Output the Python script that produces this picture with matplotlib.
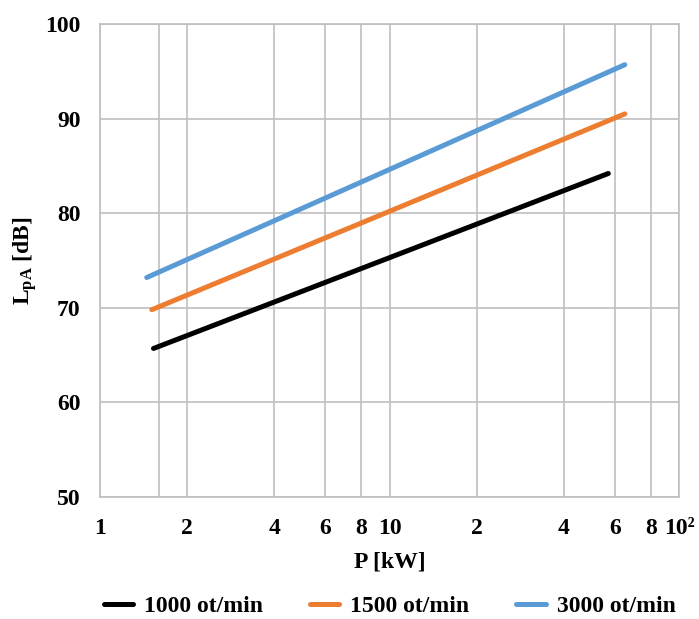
import matplotlib

matplotlib.use("Agg")

import matplotlib.pyplot as plt
from matplotlib.ticker import FixedLocator, NullFormatter

# Data (P in kW, LpA in dB)
p_1000 = [1.53, 57]
l_1000 = [65.7, 84.2]
p_1500 = [1.51, 65]
l_1500 = [69.8, 90.5]
p_3000 = [1.45, 65]
l_3000 = [73.2, 95.7]

x_ticks = [1, 2, 4, 6, 8, 10, 20, 40, 60, 80, 100]
x_labels = ["1", "2", "4", "6", "8", "10", "2", "4", "6", "8", "10\u00b2"]
x_extra_grid = [1.6]
y_ticks = [50, 60, 70, 80, 90, 100]

plt.rcParams["font.family"] = ["Liberation Serif", "DejaVu Serif"]
plt.rcParams["font.weight"] = "bold"
plt.rcParams["mathtext.fontset"] = "custom"
plt.rcParams["mathtext.rm"] = "Liberation Serif:bold"
plt.rcParams["mathtext.it"] = "Liberation Serif:bold"
plt.rcParams["mathtext.bf"] = "Liberation Serif:bold"

fig = plt.figure(figsize=(6.99, 6.19), dpi=100)
ax = fig.add_axes([0.1431, 0.1971, 0.8283, 0.7641])

grid_col = "#BFBFBF"
fs = 17

ax.plot(p_1000, l_1000, color="black", lw=3.6, solid_capstyle="round", label="1000 ot/min")
ax.plot(p_1500, l_1500, color="#ED7D31", lw=3.6, solid_capstyle="round", label="1500 ot/min")
ax.plot(p_3000, l_3000, color="#5B9BD5", lw=3.6, solid_capstyle="round", label="3000 ot/min")

ax.set_xscale("log")
ax.set_xlim(1, 100)
ax.set_ylim(50, 100)

ax.xaxis.set_major_locator(FixedLocator(x_ticks))
ax.set_xticklabels(x_labels)
ax.xaxis.set_minor_locator(FixedLocator(x_extra_grid))
ax.xaxis.set_minor_formatter(NullFormatter())
ax.set_yticks(y_ticks)

ax.grid(True, which="both", color=grid_col, lw=1.2)
ax.set_axisbelow(True)
for s in ax.spines.values():
    s.set_color(grid_col)
    s.set_linewidth(1.2)

ax.tick_params(axis="both", which="both", length=0, labelsize=fs)
ax.tick_params(axis="x", pad=15)
ax.tick_params(axis="y", pad=14)

ax.set_xlabel("P [kW]", fontsize=fs, fontweight="bold", labelpad=9)
ax.set_ylabel("L$_\\mathregular{pA}$ [dB]", fontsize=fs, fontweight="bold")
ax.yaxis.set_label_coords(-0.105, 0.5)

ax.legend(
    loc="center",
    bbox_to_anchor=(0.5, -0.232),
    ncol=3,
    frameon=False,
    fontsize=fs,
    handlelength=1.25,
    columnspacing=2.0,
    handletextpad=0.45,
)

plt.savefig("out.png", dpi=100)
plt.close()
